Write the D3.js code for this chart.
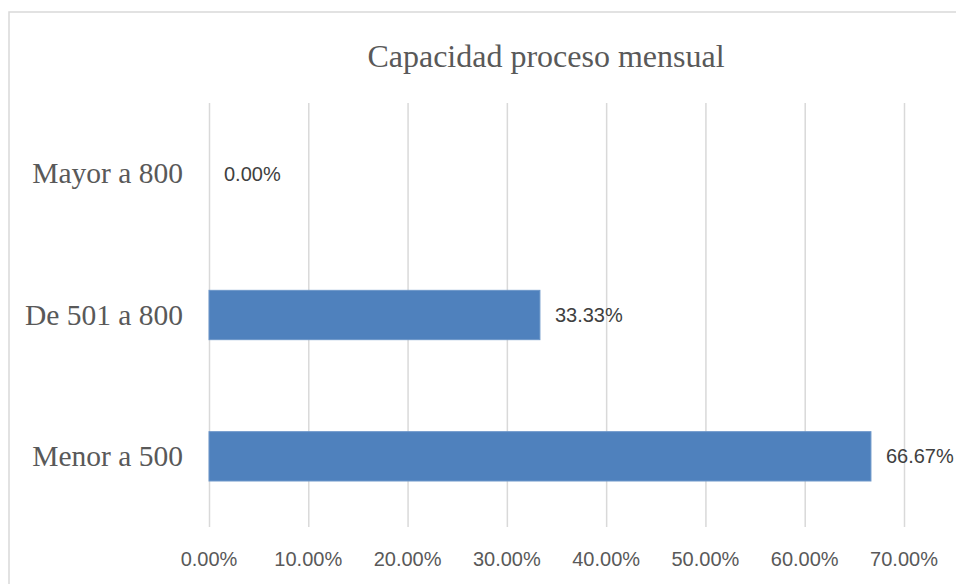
<!DOCTYPE html>
<html>
<head>
<meta charset="utf-8">
<script src="https://cdn.jsdelivr.net/npm/d3@7"></script>
<style>
    html, body { margin: 0; padding: 0; background: #fff; overflow: hidden; }
</style>
</head>
<body>
<div id="chart"></div>
<script>
// Data
const categories = ["Mayor a 800", "De 501 a 800", "Menor a 500"];
const values = [0.0, 0.3333, 0.6667];
const xTicks = [0, 0.1, 0.2, 0.3, 0.4, 0.5, 0.6, 0.7];
const title = "Capacidad proceso mensual";

const width = 956, height = 584;
const serif = "'Liberation Serif', 'Times New Roman', serif";
const sans = "'Liberation Sans', Arial, sans-serif";

const svg = d3.select("#chart")
    .append("svg")
    .attr("width", width)
    .attr("height", height)
    .style("display", "block");

// Chart border (runs off the right / bottom edge)
svg.append("rect")
    .attr("x", 9)
    .attr("y", 12)
    .attr("width", 1100)
    .attr("height", 700)
    .attr("fill", "#fff")
    .attr("stroke", "#d9d9d9")
    .attr("stroke-width", 1.5);

// Scales
const x = d3.scaleLinear()
    .domain([0, 0.7])
    .range([209, 904]);

const y = d3.scaleBand()
    .domain(categories)
    .range([103, 527])
    .paddingInner(0.651)
    .paddingOuter(0.3255);

// Grid
svg.append("g")
    .attr("transform", "translate(0,527)")
    .call(d3.axisBottom(x).tickValues(xTicks).tickSize(-424).tickFormat(""))
    .call(g => g.select(".domain").remove())
    .selectAll("line")
    .attr("stroke", "#d9d9d9")
    .attr("stroke-width", 1.5);

// X tick labels
svg.append("g")
    .selectAll("text")
    .data(xTicks)
    .join("text")
    .attr("x", d => x(d))
    .attr("y", 566)
    .attr("text-anchor", "middle")
    .attr("font-family", sans)
    .attr("font-size", 20)
    .attr("fill", "#595959")
    .text(d => d3.format(".2%")(d));

// Category labels
svg.append("g")
    .selectAll("text")
    .data(categories)
    .join("text")
    .attr("x", 183)
    .attr("y", d => y(d) + y.bandwidth() / 2)
    .attr("dy", "0.33em")
    .attr("text-anchor", "end")
    .attr("font-family", serif)
    .attr("font-size", 29.5)
    .attr("fill", "#595959")
    .text(d => d);

// Bars
svg.append("g")
    .selectAll("rect")
    .data(values)
    .join("rect")
    .attr("x", x(0))
    .attr("y", (d, i) => y(categories[i]))
    .attr("width", d => x(d) - x(0))
    .attr("height", y.bandwidth())
    .attr("fill", "#4f81bd")
    .attr("stroke", d => d > 0 ? "#6c96c9" : "none")
    .attr("stroke-width", 1);

// Data labels
svg.append("g")
    .selectAll("text")
    .data(values)
    .join("text")
    .attr("x", d => x(d) + 15)
    .attr("y", (d, i) => y(categories[i]) + y.bandwidth() / 2)
    .attr("dy", "0.35em")
    .attr("font-family", sans)
    .attr("font-size", 20)
    .attr("fill", "#404040")
    .text(d => d3.format(".2%")(d));

// Title
svg.append("text")
    .attr("x", 546)
    .attr("y", 67)
    .attr("text-anchor", "middle")
    .attr("font-family", serif)
    .attr("font-size", 32)
    .attr("fill", "#595959")
    .text(title);
</script>
</body>
</html>
